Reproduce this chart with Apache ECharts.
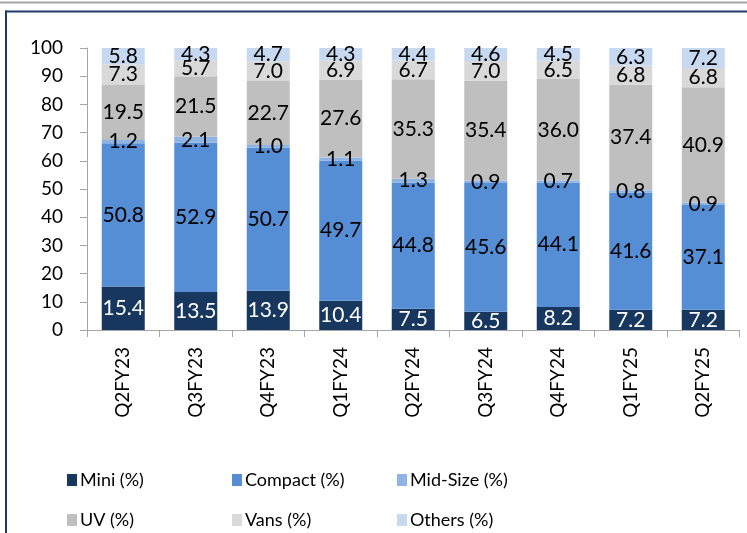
<!DOCTYPE html>
<html>
<head>
<meta charset="utf-8">
<script src="https://cdn.jsdelivr.net/npm/echarts@6/dist/echarts.min.js"></script>
<style>
html,body{margin:0;padding:0;background:#fff;}
#chart{width:747px;height:533px;}
</style>
</head>
<body>
<div id="chart"></div>
<script>
var categories = ['Q2FY23','Q3FY23','Q4FY23','Q1FY24','Q2FY24','Q3FY24','Q4FY24','Q1FY25','Q2FY25'];
var mini    = [15.4, 13.5, 13.9, 10.4, 7.5, 6.5, 8.2, 7.2, 7.2];
var compact = [50.8, 52.9, 50.7, 49.7, 44.8, 45.6, 44.1, 41.6, 37.1];
var midSize = [1.2, 2.1, 1.0, 1.1, 1.3, 0.9, 0.7, 0.8, 0.9];
var uv      = [19.5, 21.5, 22.7, 27.6, 35.3, 35.4, 36.0, 37.4, 40.9];
var vans    = [7.3, 5.7, 7.0, 6.9, 6.7, 7.0, 6.5, 6.8, 6.8];
var others  = [5.8, 4.3, 4.7, 4.3, 4.4, 4.6, 4.5, 6.3, 7.2];
var seriesNames = ['Mini (%)','Compact (%)','Mid-Size (%)','UV (%)','Vans (%)','Others (%)'];
var yTicks = [0,10,20,30,40,50,60,70,80,90,100];

var colors = ['#17375e','#558ed5','#8eb4e3','#bfbfbf','#d9d9d9','#c6d9f1'];
var labelColors = ['#ffffff','#000000','#000000','#000000','#000000','#000000'];
var dataSets = [mini, compact, midSize, uv, vans, others];
var FONT = 'Lato';

var series = dataSets.map(function(d, i){
  return {
    name: seriesNames[i],
    type: 'bar',
    stack: 'total',
    barWidth: 43,
    data: d,
    itemStyle: {color: colors[i]},
    label: {
      show: true,
      position: 'inside',
      color: labelColors[i],
      fontFamily: FONT,
      fontSize: 21,
      formatter: function(p){ return Number(p.value).toFixed(1); }
    },
    emphasis: {disabled: true},
    animation: false
  };
});

var legendLefts = [67, 232, 397, 67, 232, 397];
var legendTops  = [471, 471, 471, 511, 511, 511];
var legends = seriesNames.map(function(n, i){
  return {
    left: legendLefts[i],
    top: legendTops[i],
    padding: 0,
    orient: 'horizontal',
    itemWidth: 10,
    itemHeight: 12,
    selectedMode: false,
    textStyle: {fontFamily: FONT, fontSize: 18, color: '#000', padding: [0,0,0,-2]},
    data: [{name: n, icon: 'rect'}]
  };
});

var chart = echarts.init(document.getElementById('chart'), null, {renderer:'canvas'});
chart.setOption({
  animation: false,
  backgroundColor: '#ffffff',
  grid: {left: 87, right: 7.5, top: 48, bottom: 203, containLabel: false},
  legend: legends,
  xAxis: {
    type: 'category',
    data: categories,
    axisLine: {lineStyle: {color: '#a6a6a6', width: 1}},
    axisTick: {show: true, length: 7, lineStyle: {color: '#a6a6a6'}},
    axisLabel: {rotate: 90, margin: 17, fontFamily: FONT, fontSize: 19, color: '#000'}
  },
  yAxis: {
    type: 'value',
    min: yTicks[0],
    max: yTicks[yTicks.length-1],
    interval: 10,
    splitLine: {show: false},
    axisLine: {show: true, lineStyle: {color: '#a6a6a6', width: 1}},
    axisTick: {show: true, length: 7, lineStyle: {color: '#a6a6a6'}},
    axisLabel: {margin: 24, fontFamily: FONT, fontSize: 19, color: '#000'}
  },
  graphic: [
    {type:'rect', shape:{x:0, y:1.5, width:747, height:2}, style:{fill:'#a6a6a6'}, silent:true},
    {type:'rect', shape:{x:5, y:10.5, width:742, height:2}, style:{fill:'#1f3a6e'}, silent:true},
    {type:'rect', shape:{x:5, y:10.5, width:2, height:523}, style:{fill:'#1f3a6e'}, silent:true}
  ],
  series: series
});
</script>
</body>
</html>
